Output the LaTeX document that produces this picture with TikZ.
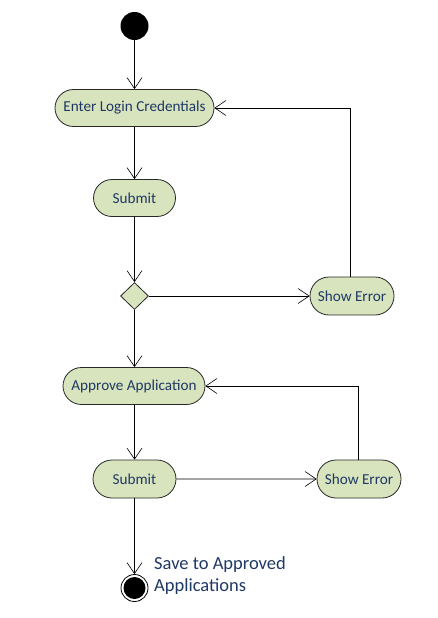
\documentclass[tikz,border=0pt]{standalone}
\usepackage{fontspec}
\setmainfont{Carlito}
\usetikzlibrary{shapes.misc,shapes.geometric,arrows.meta}
\definecolor{actfill}{RGB}{216,228,190}
\definecolor{acttext}{RGB}{31,56,100}
\definecolor{actline}{RGB}{40,40,40}
\begin{document}
\begin{tikzpicture}[x=1pt,y=-1pt,
  act/.style={rounded rectangle, draw=actline, fill=actfill, line width=0.8pt,
    text=acttext, font=\fontsize{15.2}{17}\selectfont, inner sep=0pt, minimum height=37pt},
  flow/.style={draw=black, line width=0.6pt, -{Straight Barb[length=11pt,width=15pt,line width=0.6pt]}},
  line/.style={draw=black, line width=0.6pt}]
\useasboundingbox (0,0) rectangle (438,618);
\node[circle, fill=black, minimum size=28pt, inner sep=0pt] (start) at (134.5,26) {};
\node[act, minimum width=159pt] (enter) at (134.5,108) {Enter Login Credentials};
\node[act, minimum width=82pt] (sub1) at (134.5,198) {Submit};
\node[diamond, draw=actline, fill=actfill, line width=0.8pt, minimum width=28pt, minimum height=27pt, inner sep=0pt] (dec) at (134.5,296) {};
\node[act, minimum width=84pt, minimum height=38pt] (err1) at (352,296) {Show Error};
\node[act, minimum width=142pt] (appr) at (134,386) {Approve Application};
\node[act, minimum width=83pt, minimum height=38pt] (sub2) at (134.5,479) {Submit};
\node[act, minimum width=84pt, minimum height=38pt] (err2) at (359,479) {Show Error};
\node[circle, draw=black, line width=0.8pt, minimum size=27pt, inner sep=0pt] (end) at (134.5,588) {};
\node[circle, fill=black, minimum size=22pt, inner sep=0pt] (endin) at (end.center) {};
\node[anchor=west, align=left, text=acttext, font=\fontsize{18.5}{22}\selectfont, inner sep=0pt] (lab) at (154,576) {Save to Approved\\Applications};
\coordinate (c1) at (350,108);
\coordinate (c2) at (358,386);
\draw[flow] (start) -- (start|-enter.north);
\draw[flow] (enter.south -| start) -- (sub1);
\draw[flow] (sub1) -- (dec);
\draw[flow] (dec) -- (err1);
\draw[line] (err1.north -| c1) -- (c1);
\draw[flow] (c1) -- (enter.east);
\draw[flow] (dec) -- (dec|-appr.north);
\draw[flow] (appr.south -| sub2) -- (sub2);
\draw[flow] (sub2) -- (err2);
\draw[line] (err2.north -| c2) -- (c2);
\draw[flow] (c2) -- (appr.east);
\draw[flow] (sub2.south -| end) -- (end);
\end{tikzpicture}
\end{document}
